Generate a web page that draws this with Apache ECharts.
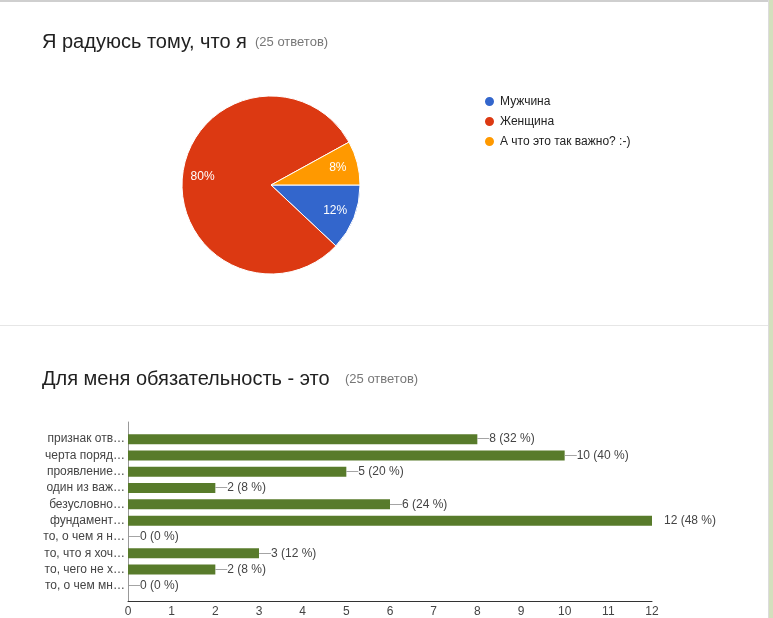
<!DOCTYPE html>
<html>
<head>
<meta charset="utf-8">
<script src="https://cdn.jsdelivr.net/npm/echarts@6/dist/echarts.min.js"></script>
<style>
    html, body { margin: 0; padding: 0; background: #fff; }
    #chart { width: 773px; height: 618px; }
</style>
</head>
<body>
<div id="chart"></div>
<script>
    // Данные: опрос 1 (круговая диаграмма)
    const pieNames = ['Мужчина', 'Женщина', 'А что это так важно? :-)'];
    const pieValues = [3, 20, 2];
    const pieColors = ['#3366cc', '#dc3912', '#ff9900'];

    // Данные: опрос 2 (горизонтальные столбцы)
    const barCategories = [
        'признак отв…', 'черта поряд…', 'проявление…', 'один из важ…', 'безусловно…',
        'фундамент…', 'то, о чем я н…', 'то, что я хоч…', 'то, чего не х…', 'то, о чем мн…'
    ];
    const barValues = [8, 10, 5, 2, 6, 12, 0, 3, 2, 0];
    const totalAnswers = 25;
    const xMax = 12;

    const FONT = "'Liberation Sans', Arial, sans-serif";
    const chart = echarts.init(document.getElementById('chart'));

    const pieData = pieNames.map((name, i) => ({
        name,
        value: pieValues[i],
        itemStyle: { color: pieColors[i] }
    }));

    chart.setOption({
        animation: false,
        textStyle: { fontFamily: FONT },
        title: [
            { text: 'Я радуюсь тому, что я', left: 42, top: 32, padding: 0,
              textStyle: { fontSize: 20, fontWeight: 'normal', color: '#212121', fontFamily: FONT } },
            { text: '(25 ответов)', left: 255, top: 36, padding: 0,
              textStyle: { fontSize: 13, fontWeight: 'normal', color: '#777', fontFamily: FONT } },
            { text: 'Для меня обязательность - это', left: 42, top: 369, padding: 0,
              textStyle: { fontSize: 20, fontWeight: 'normal', color: '#212121', fontFamily: FONT } },
            { text: '(25 ответов)', left: 345, top: 373, padding: 0,
              textStyle: { fontSize: 13, fontWeight: 'normal', color: '#777', fontFamily: FONT } }
        ],
        legend: {
            orient: 'vertical',
            left: 483,
            top: 95,
            padding: 0,
            icon: 'circle',
            itemWidth: 11,
            itemHeight: 11,
            itemGap: 7,
            selectedMode: false,
            data: pieNames,
            textStyle: { fontSize: 12, color: '#222', fontFamily: FONT }
        },
        graphic: [
            { type: 'rect', silent: true, shape: { x: 0, y: 0, width: 768, height: 2 }, style: { fill: '#cfcfcf' } },
            { type: 'rect', silent: true, shape: { x: 0, y: 325, width: 768, height: 1 }, style: { fill: '#e6e6e6' } },
            { type: 'rect', silent: true, shape: { x: 768, y: 0, width: 1, height: 618 }, style: { fill: '#dcdcdc' } },
            { type: 'rect', silent: true, shape: { x: 769, y: 0, width: 4, height: 618 }, style: { fill: '#d3dfbd' } }
        ],
        grid: [
            { left: 128, width: 524, top: 431, height: 163 },
            { left: 128, width: 524, top: 422, height: 179 }
        ],
        xAxis: [
            { gridIndex: 0, type: 'value', min: 0, max: xMax, show: false },
            {
                gridIndex: 1, type: 'value', min: 0, max: xMax, interval: 1,
                axisLine: { show: true, lineStyle: { color: '#333', width: 1 } },
                axisTick: { show: false },
                splitLine: { show: false },
                axisLabel: { color: '#444', fontSize: 12, margin: 5, fontFamily: FONT }
            }
        ],
        yAxis: [
            {
                gridIndex: 0, type: 'category', inverse: true, data: barCategories,
                axisLine: { show: false },
                axisTick: { show: false },
                axisLabel: { color: '#444', fontSize: 12, margin: 3, fontFamily: FONT }
            },
            {
                gridIndex: 1, type: 'value', min: 0, max: 1,
                axisLine: { show: true, lineStyle: { color: '#999', width: 1 } },
                axisTick: { show: false },
                axisLabel: { show: false },
                splitLine: { show: false }
            }
        ],
        series: [
            {
                type: 'pie',
                center: [271, 185],
                radius: 89,
                startAngle: 0,
                clockwise: true,
                data: pieData,
                label: { show: false },
                labelLine: { show: false },
                itemStyle: { borderColor: '#fff', borderWidth: 1 },
                emphasis: { disabled: true }
            },
            {
                // только подписи процентов, ближе к краю круга
                type: 'pie',
                center: [271, 185],
                radius: [43, 89],
                startAngle: 0,
                clockwise: true,
                silent: true,
                data: pieData.map(d => ({ name: d.name, value: d.value, itemStyle: { color: 'rgba(0,0,0,0)' } })),
                label: {
                    show: true,
                    position: 'inside',
                    formatter: '{d}%',
                    color: '#fff',
                    fontSize: 12,
                    fontFamily: FONT
                },
                labelLine: { show: false },
                emphasis: { disabled: true }
            },
            {
                type: 'bar',
                xAxisIndex: 0,
                yAxisIndex: 0,
                data: barValues,
                barWidth: 10,
                itemStyle: { color: '#587b2b' },
                emphasis: { disabled: true },
                label: {
                    show: true,
                    position: 'right',
                    distance: 0,
                    formatter: (p) => {
                        const txt = p.value + ' (' + Math.round(p.value / totalAnswers * 100) + ' %)';
                        return p.value === xMax ? '{gap|}{t|' + txt + '}' : '{d|—}{t|' + txt + '}';
                    },
                    rich: {
                        d: { color: '#999', fontSize: 12, fontFamily: FONT },
                        gap: { width: 12 },
                        t: { color: '#444', fontSize: 12, fontFamily: FONT }
                    }
                }
            }
        ]
    });
</script>
</body>
</html>
